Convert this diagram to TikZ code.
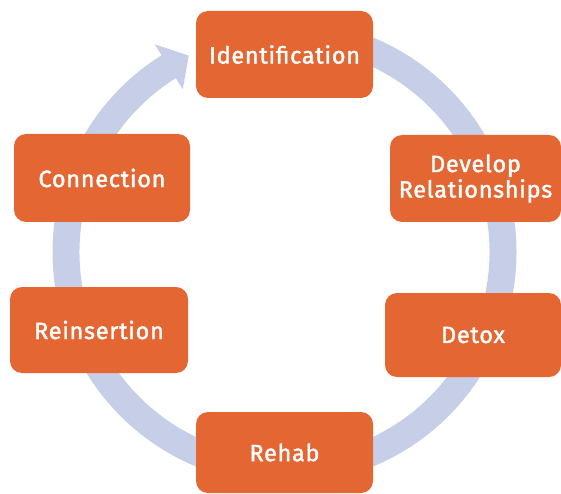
\documentclass[tikz,border=0pt]{standalone}
\usepackage{fontspec}
\setmainfont{Fira Sans}
\newfontfamily\labfont{Fira Sans}[FakeBold=1.6, LetterSpace=3]
\usetikzlibrary{calc}
\definecolor{orangec}{HTML}{E36633}
\definecolor{ringc}{HTML}{C7CEE7}
\begin{document}
\begin{tikzpicture}[x=1pt,y=1pt,
  stage/.style={fill=orangec, rounded corners=12pt, text=white,
    font=\labfont\fontsize{23.5}{25.5}\selectfont, align=center, inner sep=0pt}]
\useasboundingbox (0,0) rectangle (561,493);
\coordinate (c) at (284.5,241);
\fill[ringc] ($(c)+(90:232)$) arc[start angle=90, end angle=-238, radius=232]
  -- ($(c)+(-238:245)$) -- ($(c)+(-244:218.5)$) -- ($(c)+(-238:192)$)
  -- ($(c)+(-238:205)$) arc[start angle=-238, end angle=90, radius=205] -- cycle;
\node[stage, minimum width=177pt, minimum height=87pt] (ident) at (284.5,438.5) {Identification};
\node[stage, minimum width=171pt, minimum height=87pt] (dev) at (475.5,314.5) {Develop\\Relationships};
\node[stage, minimum width=176pt, minimum height=84pt] (detox) at (473,158) {Detox};
\node[stage, minimum width=177pt, minimum height=81pt] (rehab) at (284.5,40.5) {Rehab};
\node[stage, minimum width=178pt, minimum height=86pt] (reins) at (99,163) {Reinsertion};
\node[stage, minimum width=176pt, minimum height=88pt] (conn) at (102,315) {Connection};
\end{tikzpicture}
\end{document}
